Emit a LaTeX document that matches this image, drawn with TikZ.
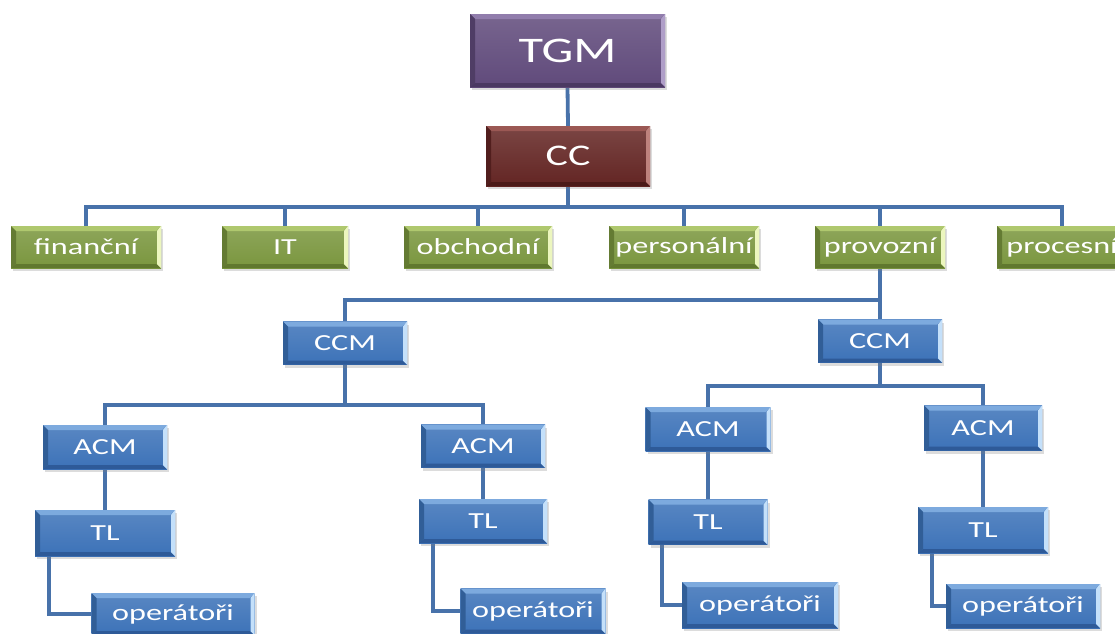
\documentclass[tikz,border=0pt]{standalone}
\usepackage{fontspec}
\setmainfont{Carlito}[FakeStretch=1.4]
\usetikzlibrary{shadows,calc,backgrounds}

\definecolor{conn}{RGB}{72,114,170}
% base / top bevel / right bevel / bottom bevel
\definecolor{pBase}{RGB}{96,74,123}
\definecolor{pTop}{RGB}{145,125,172}
\definecolor{pRight}{RGB}{175,158,200}
\definecolor{pBot}{RGB}{75,57,98}
\definecolor{rBase}{RGB}{99,37,35}
\definecolor{rTop}{RGB}{155,88,84}
\definecolor{rRight}{RGB}{190,130,125}
\definecolor{rBot}{RGB}{75,26,24}
\definecolor{gBase}{RGB}{122,150,62}
\definecolor{gTop}{RGB}{175,200,110}
\definecolor{gRight}{RGB}{236,246,190}
\definecolor{gBot}{RGB}{96,120,46}
\definecolor{bBase}{RGB}{60,114,184}
\definecolor{bTop}{RGB}{125,170,222}
\definecolor{bRight}{RGB}{196,224,250}
\definecolor{bBot}{RGB}{46,90,152}

\tikzset{
  bevel/.style n args={4}{
    draw=none, inner sep=0pt, text=white,
    top color=#1!85!white, bottom color=#1,
    drop shadow={shadow xshift=2pt, shadow yshift=-3pt, opacity=.28},
    path picture={
      \def\pb{path picture bounding box}
      \fill[#2] (\pb.north west) -- (\pb.north east)
        -- ([xshift=-5pt,yshift=-5pt]\pb.north east)
        -- ([xshift=5pt,yshift=-5pt]\pb.north west) -- cycle;
      \fill[#4] (\pb.south west) -- (\pb.south east)
        -- ([xshift=-5pt,yshift=4pt]\pb.south east)
        -- ([xshift=5pt,yshift=4pt]\pb.south west) -- cycle;
      \fill[#1!82!black] (\pb.north west) -- ([xshift=5pt,yshift=-5pt]\pb.north west)
        -- ([xshift=5pt,yshift=4pt]\pb.south west) -- (\pb.south west) -- cycle;
      \fill[#3] (\pb.north east) -- ([xshift=-4pt,yshift=-5pt]\pb.north east)
        -- ([xshift=-4pt,yshift=4pt]\pb.south east) -- (\pb.south east) -- cycle;
    }},
  purplebox/.style={bevel={pBase}{pTop}{pRight}{pBot}, font=\fontsize{36}{40}\selectfont},
  redbox/.style={bevel={rBase}{rTop}{rRight}{rBot}, font=\fontsize{30}{34}\selectfont},
  greenbox/.style={bevel={gBase}{gTop}{gRight}{gBot}, font=\fontsize{23}{27}\selectfont,
    minimum height=42pt},
  bluebox/.style={bevel={bBase}{bTop}{bRight}{bBot}, font=\fontsize{23}{27}\selectfont},
  link/.style={draw=conn, line width=3.8pt, line join=miter},
}

\begin{document}
\begin{tikzpicture}[x=1pt,y=-1pt]
\useasboundingbox (0,0) rectangle (1115,633);

% top of the hierarchy
\node[purplebox, minimum width=195pt, minimum height=73pt] (tgm) at (567.5,50.5) {TGM};
\node[redbox, minimum width=164pt, minimum height=60pt] (cc) at (568,156) {CC};

% departments
\node[greenbox, minimum width=150pt] (fin) at (86,247) {finanční};
\node[greenbox, minimum width=126pt] (it) at (285,247) {IT};
\node[greenbox, minimum width=148pt] (obch) at (478,247) {obchodní};
\node[greenbox, minimum width=150pt] (pers) at (684,247) {personální};
\node[greenbox, minimum width=130pt] (prov) at (880,247) {provozní};
\node[greenbox, minimum width=130pt] (proc) at (1062,247) {procesní};

% operations branch
\node[bluebox, minimum width=124pt, minimum height=43pt] (ccmL) at (345,343) {CCM};
\node[bluebox, minimum width=124pt, minimum height=43pt] (ccmR) at (880,341) {CCM};

\node[bluebox, minimum width=124pt, minimum height=44pt] (acm1) at (105,447) {ACM};
\node[bluebox, minimum width=124pt, minimum height=43pt] (acm2) at (483,446) {ACM};
\node[bluebox, minimum width=125pt, minimum height=44pt] (acm3) at (708,429) {ACM};
\node[bluebox, minimum width=118pt, minimum height=45pt] (acm4) at (983,428) {ACM};

\node[bluebox, minimum width=140pt, minimum height=46pt] (tl1) at (105,533) {TL};
\node[bluebox, minimum width=128pt, minimum height=44pt] (tl2) at (483,521) {TL};
\node[bluebox, minimum width=119pt, minimum height=45pt] (tl3) at (708,522) {TL};
\node[bluebox, minimum width=130pt, minimum height=46pt] (tl4) at (983,530) {TL};

\node[bluebox, minimum width=163pt, minimum height=42pt] (op1) at (173,614) {operátoři};
\node[bluebox, minimum width=145pt, minimum height=45pt] (op2) at (533,611) {operátoři};
\node[bluebox, minimum width=156pt, minimum height=46pt] (op3) at (760,605) {operátoři};
\node[bluebox, minimum width=154pt, minimum height=44pt] (op4) at (1023,606) {operátoři};

% bus levels
\coordinate (b1) at (0,207);
\coordinate (b2) at (0,300);
\coordinate (b3) at (0,405);
\coordinate (b4) at (0,386);

\begin{scope}[on background layer]
  \draw[link] (tgm.south) -- (cc.north);
  \draw[link] (cc.south) -- (cc.south |- b1);
  \foreach \d in {fin,it,obch,pers,prov,proc}
    \draw[link] (cc.south |- b1) -| (\d.north);

  \draw[link] (prov.south) -- (prov.south |- b2);
  \foreach \d in {ccmL,ccmR}
    \draw[link] (prov.south |- b2) -| (\d.north);

  \draw[link] (ccmL.south) -- (ccmL.south |- b3);
  \foreach \d in {acm1,acm2}
    \draw[link] (ccmL.south |- b3) -| (\d.north);
  \draw[link] (ccmR.south) -- (ccmR.south |- b4);
  \foreach \d in {acm3,acm4}
    \draw[link] (ccmR.south |- b4) -| (\d.north);

  \foreach \i in {1,2,3,4}{
    \draw[link] (acm\i.south) -- (tl\i.north);
    \draw[link] ($(tl\i.south west)+(14,0)$) |- (op\i.west);
  }
\end{scope}
\end{tikzpicture}
\end{document}
